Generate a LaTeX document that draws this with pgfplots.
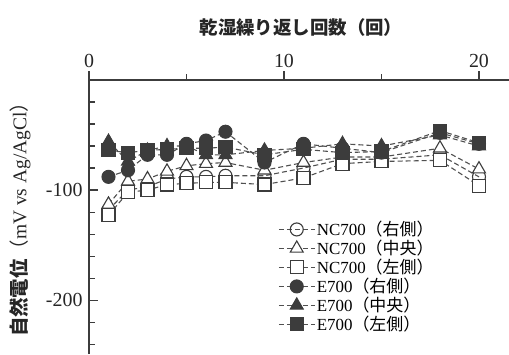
\documentclass[border=0pt]{standalone}
\usepackage{fontspec}
\setmainfont{Liberation Serif}
\newfontfamily\cjk{Noto Sans CJK JP}
\usepackage{pgfplots}
\pgfplotsset{compat=1.18}
\definecolor{mk}{HTML}{3C3C3C}
\definecolor{ln}{HTML}{505050}
\begin{document}
\begin{tikzpicture}[x=1bp,y=1bp]
\path[use as bounding box] (-89,-274) rectangle (420,80);
\begin{axis}[
  at={(0,0)}, anchor=north west, scale only axis, width=420bp, height=274bp,
  xmin=0, xmax=21.54, ymin=-249, ymax=0,
  axis x line=top, axis y line=left,
  axis line style={-, line width=1.2bp, color=mk},
  xtick={0,10,20}, minor xtick={5,15},
  ytick={-200,-100}, minor ytick={-240,-220,...,-20},
  xtick align=outside, ytick align=inside,
  major tick length=9bp, minor tick length=6bp,
  tick style={line width=1.1bp, color=mk},
  /pgf/number format/assume math mode=true,
  tick label style={font=\fontsize{20}{20}\selectfont, text=black!85},
  yticklabel style={xshift=-3bp},
  clip=false,
  every axis plot/.append style={dash pattern=on 5bp off 3bp, line width=1.1bp, color=ln, mark size=6.5bp},
  legend style={at={(axis description cs:0.45,0.49)}, anchor=north west, draw=none, fill=none,
    font=\fontsize{17}{17}\selectfont, row sep=0bp, inner sep=0pt,
    nodes={inner sep=1.5bp}},
  legend cell align=left,
  legend image code/.code={\draw[mark repeat=2, mark phase=2, #1] plot coordinates {(0bp,0bp) (18bp,0bp) (36bp,0bp)};},
]
\addplot[mark=o, mark options={solid, fill=white, draw=mk, line width=1.1bp}] coordinates {
(1,-118) (2,-100) (3,-97) (4,-90) (5,-88) (6,-88) (7,-87) (9,-87) (11,-80) (13,-72) (15,-72) (18,-68) (20,-88)};
\addlegendentry{NC700{\cjk （右側）}}
\addplot[mark=triangle*, mark size=7.5bp, mark options={solid, fill=white, draw=mk, line width=1.1bp}] coordinates {
(1,-113) (2,-92) (3,-90) (4,-83) (5,-78) (6,-76) (7,-75) (9,-82) (11,-75) (13,-70) (15,-70) (18,-62) (20,-81)};
\addlegendentry{NC700{\cjk （中央）}}
\addplot[mark=square*, mark options={solid, fill=white, draw=mk, line width=1.1bp}] coordinates {
(1,-123) (2,-102) (3,-100) (4,-95) (5,-94) (6,-93) (7,-93) (9,-95) (11,-89) (13,-76) (15,-74) (18,-73) (20,-96)};
\addlegendentry{NC700{\cjk （左側）}}
\addplot[mark=*, mark options={solid, fill=mk, draw=mk}] coordinates {
(1,-88) (2,-82) (3,-68) (4,-68) (5,-58) (6,-55) (7,-47) (9,-75) (11,-58) (13,-62) (15,-66) (18,-48) (20,-58)};
\addlegendentry{E700{\cjk （右側）}}
\addplot[mark=triangle*, mark size=7.5bp, mark options={solid, fill=mk, draw=mk}] coordinates {
(1,-56) (2,-74) (3,-64) (4,-60) (5,-60) (6,-68) (7,-68) (9,-64) (11,-62) (13,-58) (15,-60) (18,-50) (20,-60)};
\addlegendentry{E700{\cjk （中央）}}
\addplot[mark=square*, mark options={solid, fill=mk, draw=mk}] coordinates {
(1,-64) (2,-66) (3,-64) (4,-63) (5,-62) (6,-62) (7,-61) (9,-68) (11,-63) (13,-66) (15,-65) (18,-46) (20,-57)};
\addlegendentry{E700{\cjk （左側）}}
\end{axis}
\node[font=\cjk\bfseries\fontsize{18.5}{18.5}\selectfont, text=black!85] at (212,53) {乾湿繰り返し回数（回）};
\node[rotate=90, font=\fontsize{19.5}{19.5}\selectfont, text=black!85] at (-69,-135) {{\cjk\bfseries 自然電位}{\cjk （}mV vs Ag/AgCl{\cjk ）}};
\end{tikzpicture}
\end{document}
